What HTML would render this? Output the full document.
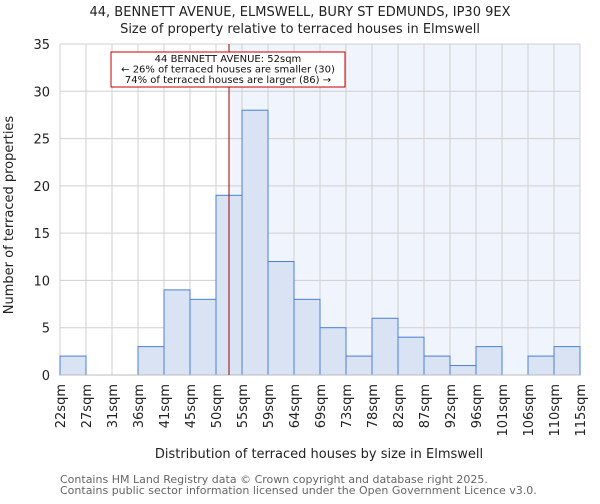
<!DOCTYPE html>
<html><head><meta charset="utf-8"><style>
body{margin:0;background:#fff;font-family:"DejaVu Sans","Liberation Sans",sans-serif}
svg text{font-family:"DejaVu Sans","Liberation Sans",sans-serif}
</style></head><body>
<svg id="chart" width="600" height="500">
<text x="300" y="16" text-anchor="middle" font-size="13" fill="#222">44, BENNETT AVENUE, ELMSWELL, BURY ST EDMUNDS, IP30 9EX</text>
<text x="300" y="33" text-anchor="middle" font-size="13" fill="#222">Size of property relative to terraced houses in Elmswell</text>
<g id="plot"></g>
<text x="319" y="458" text-anchor="middle" font-size="13" fill="#222">Distribution of terraced houses by size in Elmswell</text>
<text transform="translate(13,215) rotate(-90)" text-anchor="middle" font-size="13" fill="#222">Number of terraced properties</text>
<text x="60" y="483" font-size="11" fill="#666">Contains HM Land Registry data © Crown copyright and database right 2025.</text>
<text x="60" y="494" font-size="11" fill="#666">Contains public sector information licensed under the Open Government Licence v3.0.</text>
</svg>
<script>
const categories=["22sqm","27sqm","31sqm","36sqm","41sqm","45sqm","50sqm","55sqm","59sqm","64sqm","69sqm","73sqm","78sqm","82sqm","87sqm","92sqm","96sqm","101sqm","106sqm","110sqm","115sqm"];
const counts=[2,0,0,3,9,8,19,28,12,8,5,2,6,4,2,1,3,0,2,3];
const yTicks=[0,5,10,15,20,25,30,35];
const markerBin=6.5;
const NS="http://www.w3.org/2000/svg";
const g=document.getElementById('plot');
const X0=60,X1=580,Y0=375,Y1=44,yMax=35;
const bw=(X1-X0)/counts.length;
const xs=i=>X0+i*bw;
const ys=v=>Y0-(v/yMax)*(Y0-Y1);
function mk(t,a){const e=document.createElementNS(NS,t);for(const k in a)e.setAttribute(k,a[k]);g.appendChild(e);return e;}
const mx=xs(markerBin);
let e=mk('rect',{x:mx,y:Y1,width:X1-mx,height:Y0-Y1,fill:'#f0f4fd'});


for(let i=0;i<categories.length;i++){e=mk('line',{x1:xs(i),x2:xs(i),y1:Y1,y2:Y0,stroke:'#d0d0d0'});

}
yTicks.forEach(t=>{e=mk('line',{x1:X0,x2:X1,y1:ys(t),y2:ys(t),stroke:'#d0d0d0'});


e=mk('text',{x:X0-10,y:ys(t)+5,'text-anchor':'end','font-size':13,fill:'#222'});e.textContent=t;

});
counts.forEach((c,i)=>{if(c<=0)return;e=mk('rect',{x:xs(i),y:ys(c),width:bw,height:Y0-ys(c),fill:'#dae3f3',stroke:'#4a7fd4','stroke-width':1});

});
categories.forEach((c,i)=>{e=mk('text',{transform:`translate(${xs(i)+5},384) rotate(-90)`,'text-anchor':'end','font-size':13,fill:'#222'});e.textContent=c;

});
e=mk('line',{x1:X0,x2:X1,y1:Y0,y2:Y0,stroke:'#bbb'});


e=mk('line',{x1:mx,x2:mx,y1:Y1,y2:Y0,stroke:'#a00000','stroke-width':1});


e=mk('rect',{x:111,y:52,width:234,height:35,fill:'#fff',stroke:'#c00000'});


["44 BENNETT AVENUE: 52sqm","← 26% of terraced houses are smaller (30)","74% of terraced houses are larger (86) →"].forEach((s,k)=>{e=mk('text',{x:228,y:62+k*10.5,'text-anchor':'middle','font-size':10,fill:'#111'});e.textContent=s;

});
</script>
</body></html>
